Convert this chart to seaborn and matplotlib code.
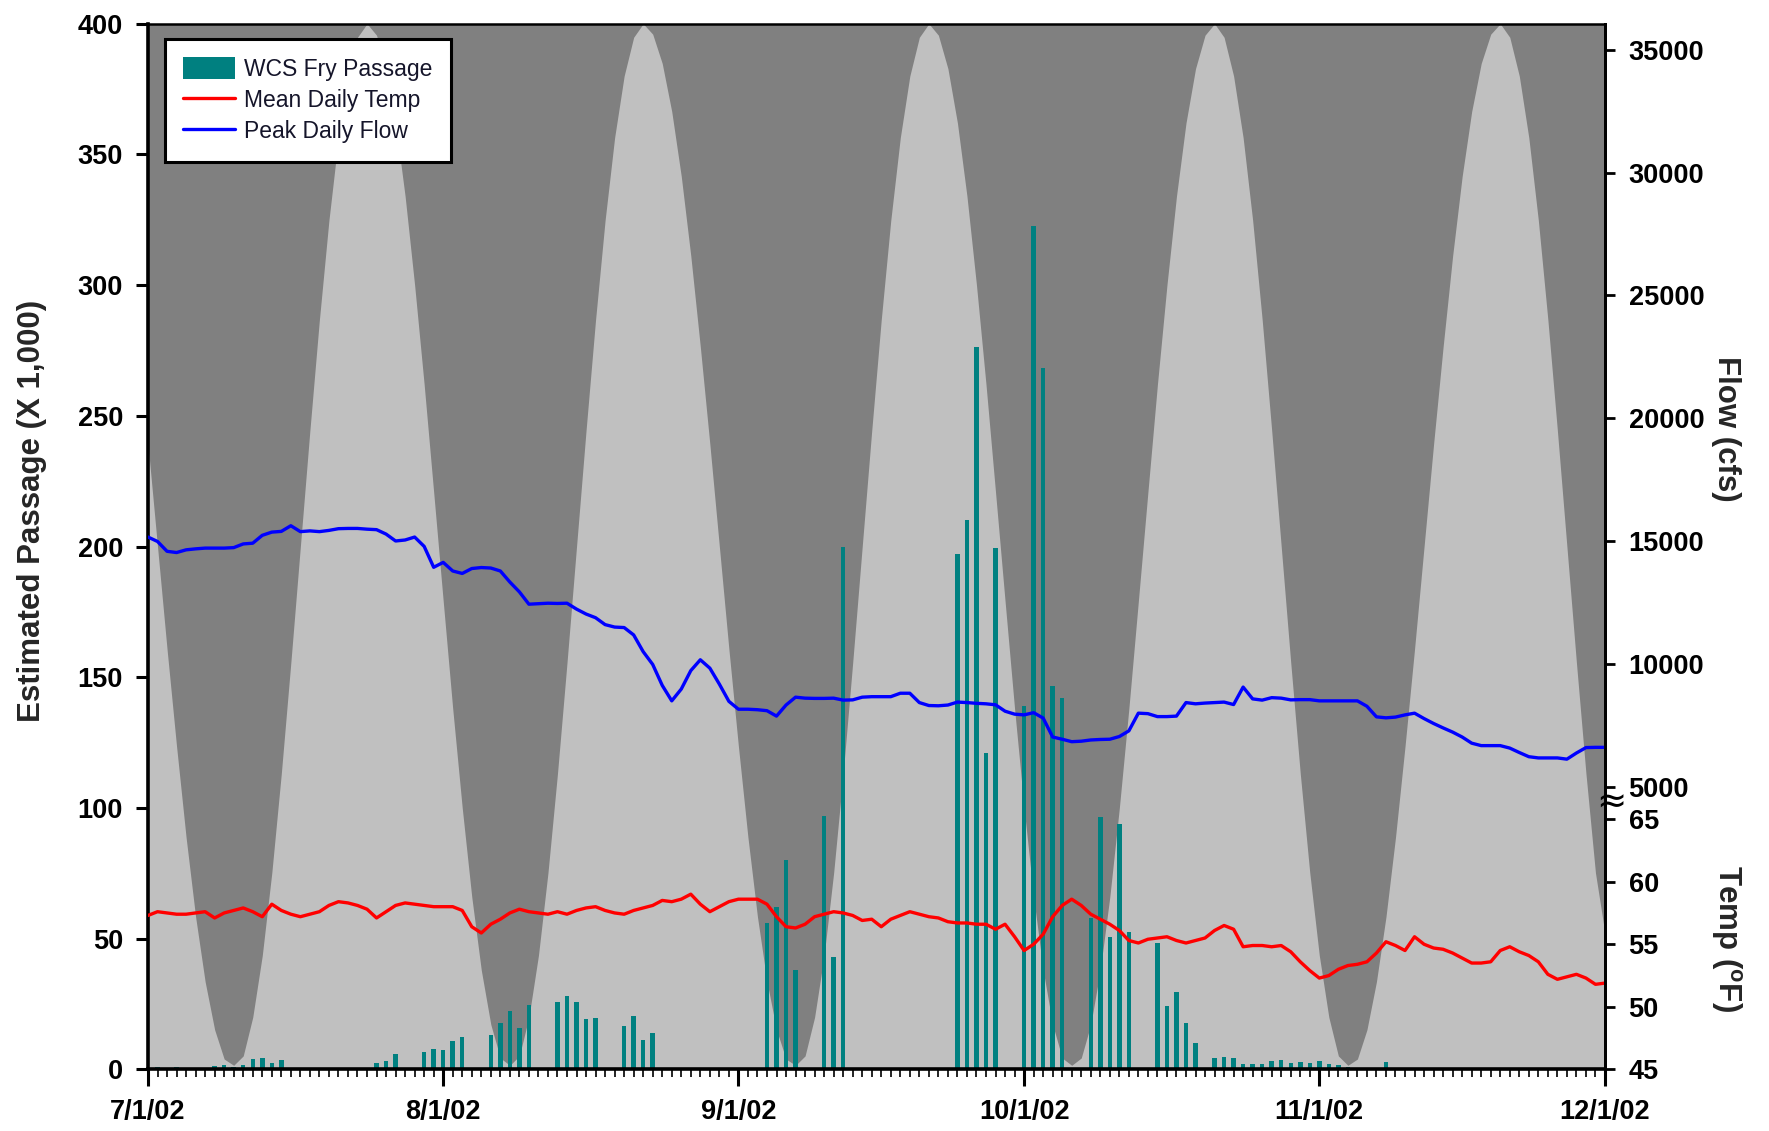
import matplotlib
matplotlib.use('Agg')
import matplotlib.pyplot as plt
import matplotlib.dates as mdates
from matplotlib.patches import Patch
from matplotlib.lines import Line2D
import numpy as np
import pandas as pd
import seaborn as sns

# ---------------- data (daily, 7/1/02 .. 12/1/02) ----------------
start_date = '2002-07-01'
end_date = '2002-12-01'

# WCS fry passage (x 1,000)
passage = [
    0, 0.8, 0.5, 0.8, 0.5, 0, 0.5, 1.2, 1.8, 1.0,
    1.8, 4.1, 4.5, 2.3, 3.7, 0, 0, 0, 0, 0,
    0, 0, 0, 0, 2.5, 3.2, 6.0, 0, 0, 6.6,
    7.7, 7.3, 11.0, 12.5, 0, 0, 13.3, 17.9, 22.3, 15.8,
    24.5, 0, 0, 25.8, 28.3, 25.8, 19.4, 19.8, 0, 0,
    16.6, 20.4, 11.1, 13.8, 0, 0, 0, 0, 0, 0,
    0, 0, 0, 0, 0, 56, 62, 80, 38, 0,
    0, 97, 43, 200, 0, 0, 0, 0, 0, 0,
    0, 0, 0, 0, 0, 197, 210, 276.5, 121, 199.5,
    0, 0, 139, 322.5, 268.5, 146.5, 142, 0, 0, 58,
    96.5, 50.5, 94, 52.5, 0, 0, 48.5, 24.2, 29.6, 17.6,
    10.3, 0, 4.5, 4.8, 4.3, 2.0, 2.0, 2.2, 3.3, 3.5,
    2.6, 2.9, 2.5, 3.3, 2.0, 1.6, 1.0, 0.5, 0.5, 0.5,
    3.0, 0, 0, 0, 0, 0, 0, 0, 0, 0,
    0, 0, 0, 0, 0, 0, 0, 0, 0, 0,
    0, 0, 0, 0,
]

# Mean daily temperature (deg F)
temp_f = [
    57.3, 57.6, 57.5, 57.4, 57.4, 57.5, 57.6, 57.1, 57.5, 57.7,
    57.9, 57.6, 57.2, 58.2, 57.7, 57.4, 57.2, 57.4, 57.6, 58.1,
    58.4, 58.3, 58.1, 57.8, 57.1, 57.6, 58.1, 58.3, 58.2, 58.1,
    58.0, 58.0, 58.0, 57.7, 56.4, 55.9, 56.6, 57.0, 57.5, 57.8,
    57.6, 57.5, 57.4, 57.6, 57.4, 57.7, 57.9, 58.0, 57.7, 57.5,
    57.4, 57.7, 57.9, 58.1, 58.5, 58.4, 58.6, 59.0, 58.2, 57.6,
    58.0, 58.4, 58.6, 58.6, 58.6, 58.2, 57.2, 56.4, 56.3, 56.6,
    57.2, 57.4, 57.6, 57.5, 57.3, 56.9, 57.0, 56.4, 57.0, 57.3,
    57.6, 57.4, 57.2, 57.1, 56.8, 56.7, 56.7, 56.6, 56.6, 56.2,
    56.6, 55.6, 54.5, 55.0, 55.8, 57.2, 58.1, 58.6, 58.1, 57.4,
    57.0, 56.6, 56.1, 55.3, 55.1, 55.4, 55.5, 55.6, 55.3, 55.1,
    55.3, 55.5, 56.1, 56.5, 56.2, 54.8, 54.9, 54.9, 54.8, 54.9,
    54.4, 53.6, 52.9, 52.3, 52.5, 53.0, 53.3, 53.4, 53.6, 54.3,
    55.2, 54.9, 54.5, 55.6, 55.0, 54.7, 54.6, 54.3, 53.9, 53.5,
    53.5, 53.6, 54.5, 54.8, 54.4, 54.1, 53.6, 52.6, 52.2, 52.4,
    52.6, 52.3, 51.8, 51.9,
]

# Peak daily flow (cfs)
flow_cfs = [
    15180, 15000, 14600, 14550, 14660, 14700, 14730, 14730, 14730, 14750,
    14900, 14930, 15250, 15380, 15410, 15640, 15400, 15430, 15400, 15450,
    15520, 15530, 15530, 15500, 15480, 15300, 15020, 15060, 15180, 14800,
    13950, 14150, 13800, 13700, 13900, 13940, 13920, 13800, 13350, 12950,
    12450, 12470, 12490, 12480, 12490, 12250, 12050, 11900, 11620, 11520,
    11500, 11200, 10520, 10000, 9150, 8520, 9000, 9750, 10190, 9850,
    9200, 8500, 8180, 8180, 8160, 8120, 7900, 8350, 8670, 8630,
    8620, 8620, 8630, 8550, 8560, 8670, 8690, 8690, 8690, 8830,
    8830, 8450, 8330, 8320, 8350, 8470, 8450, 8420, 8400, 8360,
    8100, 7980, 7950, 8040, 7820, 7050, 6960, 6860, 6880, 6930,
    6950, 6960, 7070, 7300, 8020, 8000, 7880, 7880, 7900, 8450,
    8400, 8430, 8450, 8470, 8370, 9080, 8600, 8550, 8650, 8630,
    8560, 8570, 8570, 8520, 8520, 8520, 8520, 8520, 8300, 7870,
    7830, 7860, 7950, 8020, 7800, 7600, 7420, 7250, 7050, 6800,
    6700, 6700, 6700, 6600, 6420, 6250, 6200, 6200, 6200, 6150,
    6400, 6620, 6630, 6630,
]

# Moon illumination (% of disc), background shading
moon_pct = [
    59.8, 50.0, 40.2, 30.9, 22.2, 14.6, 8.4, 3.8, 1.0, 0.4,
    1.3, 5.0, 10.9, 18.8, 28.3, 38.9, 50.0, 61.1, 71.7, 81.2,
    89.1, 95.0, 98.7, 100, 98.9, 95.7, 90.5, 83.5, 75.0, 65.5,
    55.2, 44.8, 34.5, 25.0, 16.5, 9.5, 4.3, 1.1, 0.4, 1.3,
    5.0, 10.9, 18.8, 28.3, 38.9, 50.0, 61.1, 71.7, 81.2, 89.1,
    95.0, 98.7, 100, 99.0, 96.2, 91.6, 85.4, 77.8, 69.1, 59.8,
    50.0, 40.2, 30.9, 22.2, 14.6, 8.4, 3.8, 1.0, 0.4, 1.3,
    5.0, 10.9, 18.8, 28.3, 38.9, 50.0, 61.1, 71.7, 81.2, 89.1,
    95.0, 98.7, 100, 98.9, 95.7, 90.5, 83.5, 75.0, 65.5, 55.2,
    44.8, 34.5, 25.0, 16.5, 9.5, 4.3, 1.1, 0.4, 1.1, 4.3,
    9.5, 16.5, 25.0, 34.5, 44.8, 55.2, 65.5, 75.0, 83.5, 90.5,
    95.7, 98.9, 100, 98.7, 95.0, 89.1, 81.2, 71.7, 61.1, 50.0,
    38.9, 28.3, 18.8, 10.9, 5.0, 1.3, 0.4, 1.0, 3.8, 8.4,
    14.6, 22.2, 30.9, 40.2, 50.0, 59.8, 69.1, 77.8, 85.4, 91.6,
    96.2, 99.0, 100, 98.7, 95.0, 89.1, 81.2, 71.7, 61.1, 50.0,
    38.9, 28.3, 18.8, 13.0,
]

passage_ticks = [0, 50, 100, 150, 200, 250, 300, 350, 400]
flow_ticks = [5000, 10000, 15000, 20000, 25000, 30000, 35000]
temp_ticks = [45, 50, 55, 60, 65]
legend_labels = ['WCS Fry Passage', 'Mean Daily Temp', 'Peak Daily Flow']

# ---------------- styling ----------------
sns.set_theme(style='white')
plt.rcParams['font.family'] = ['Liberation Sans', 'DejaVu Sans']
plt.rcParams['font.weight'] = 'bold'
plt.rcParams['mathtext.fontset'] = 'custom'
plt.rcParams['mathtext.rm'] = 'Liberation Sans:bold'
plt.rcParams['mathtext.bf'] = 'Liberation Sans:bold'

dates = pd.date_range(start_date, end_date, freq='D')
xnum = mdates.date2num(dates.to_pydatetime())
df = pd.DataFrame({'x': xnum, 'passage': passage, 'temp': temp_f,
                   'flow': flow_cfs, 'moon': np.array(moon_pct) / 100.0})

TEAL = '#008080'
DARK = '#808080'
LIGHT = '#C0C0C0'

fig = plt.figure(figsize=(17.69, 11.31), dpi=100)
ax = fig.add_axes([0.08366, 0.05438, 0.82363, 0.92467])
ax.set_facecolor(DARK)

# moon-phase background
ax.fill_between(df['x'], 0, df['moon'], transform=ax.get_xaxis_transform(),
                color=LIGHT, lw=0, zorder=0)

# passage bars
sns.barplot(data=df, x='x', y='passage', native_scale=True, width=0.47,
            color=TEAL, saturation=1, errorbar=None, ax=ax, linewidth=0, zorder=2)

ax.set_xlim(xnum[0], xnum[-1])
ax.set_ylim(0, 400)
ax.set_yticks(passage_ticks)
ax.set_xlabel('')
ax.set_ylabel('')
ax.xaxis.set_major_locator(mdates.MonthLocator())
ax.xaxis.set_major_formatter(mdates.DateFormatter('%-m/%-d/%y'))
ax.xaxis.set_minor_locator(mdates.DayLocator())
ax.tick_params(axis='x', which='major', direction='out', bottom=True, length=12,
               width=2.2, pad=9, labelsize=19.5, colors='black')
ax.tick_params(axis='x', which='minor', direction='out', bottom=True, length=6,
               width=1.2, color='black')
ax.tick_params(axis='y', which='major', direction='out', left=True, right=False,
               length=9, width=2.2, pad=9, labelsize=19.5, colors='black')

# temperature (lower right scale)
ax_t = ax.twinx()
sns.lineplot(data=df, x='x', y='temp', ax=ax_t, color='#FF0000', lw=2.4)
ax_t.set_ylim(45, 45 + 20 / 0.2395)
ax_t.set_yticks(temp_ticks)

# flow (upper right scale)
ax_f = ax.twinx()
sns.lineplot(data=df, x='x', y='flow', ax=ax_f, color='#0000FF', lw=2.4)
span = 30000 / 0.7056
lo = 5000 - 0.2697 * span
ax_f.set_ylim(lo, lo + span)
ax_f.set_yticks(flow_ticks)

for a in (ax_t, ax_f):
    a.set_xlim(xnum[0], xnum[-1])
    a.set_ylabel('')
    a.set_xlabel('')
    a.tick_params(axis='y', which='major', direction='out', right=True, left=False,
                  length=7, width=2, pad=10, labelsize=19.5, colors='black')
    for s in ('left', 'top', 'bottom'):
        a.spines[s].set_visible(False)
    a.spines['right'].set_color('black')
    a.spines['right'].set_linewidth(2)

for s, lw in (('left', 2.6), ('bottom', 2.6), ('top', 1.8), ('right', 2)):
    ax.spines[s].set_color('black')
    ax.spines[s].set_linewidth(lw)
    ax.spines[s].set_visible(True)

# axis titles
ax.text(-0.0799, 0.534, 'Estimated Passage (X 1,000)', transform=ax.transAxes,
        rotation=90, ha='center', va='center', fontsize=22.5, fontweight='bold')
ax.text(1.0831, 0.6127, 'Flow (cfs)', transform=ax.transAxes,
        rotation=270, ha='center', va='center', fontsize=22.5, fontweight='bold')
ax.text(1.0831, 0.1251, r'Temp ($^{\mathrm{o}}$F)', transform=ax.transAxes,
        rotation=270, ha='center', va='center', fontsize=22.5, fontweight='bold')

# scale break marker on right axis
ax_f.text(1.004, 0.2548, '\u2248', transform=ax_f.transAxes, ha='center', va='center',
          fontsize=26, family='DejaVu Sans', fontweight='normal', color='black',
          clip_on=False, zorder=20)

# legend
handles = [Patch(facecolor=TEAL, edgecolor='none'),
           Line2D([], [], color='#FF0000', lw=2.4),
           Line2D([], [], color='#0000FF', lw=2.4)]
leg = ax_f.legend(handles, legend_labels, loc='upper left',
                  bbox_to_anchor=(0.0117, 0.9854), borderaxespad=0,
                  frameon=True, fancybox=False, framealpha=1, edgecolor='black',
                  facecolor='white', handlelength=2.25, handleheight=1.1,
                  handletextpad=0.4, labelspacing=0.32, borderpad=0.8,
                  prop={'family': 'Liberation Sans', 'weight': 'normal', 'size': 16.5},
                  labelcolor='#15152a')
leg.get_frame().set_linewidth(2.2)
leg.set_zorder(30)

fig.savefig('out.png', dpi=100)
